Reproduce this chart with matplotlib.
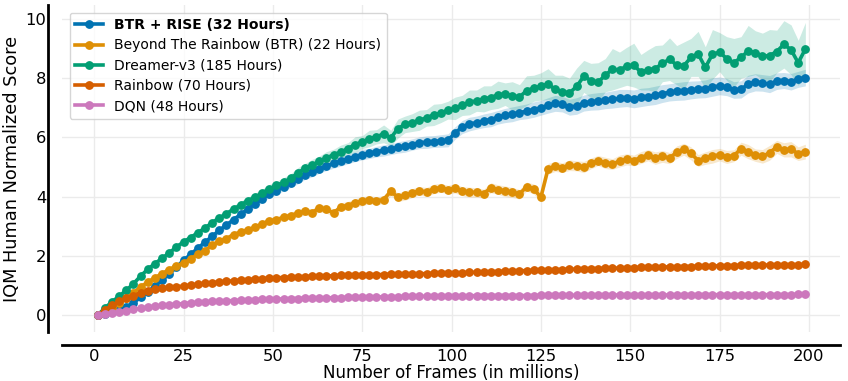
import numpy as np
import matplotlib
matplotlib.use("Agg")
import matplotlib.pyplot as plt

frames = np.arange(1, 201, 2)  # millions of frames

btr_rise = [0.00, 0.04, 0.10, 0.18, 0.28, 0.42, 0.60, 0.79, 0.98, 1.18,
            1.40, 1.62, 1.85, 2.05, 2.26, 2.46, 2.66, 2.86, 3.04, 3.22,
            3.40, 3.58, 3.76, 3.92, 4.10, 4.20, 4.33, 4.45, 4.58, 4.72,
            4.82, 4.95, 5.03, 5.12, 5.20, 5.27, 5.35, 5.42, 5.46, 5.52,
            5.56, 5.60, 5.66, 5.70, 5.76, 5.82, 5.84, 5.86, 5.88, 5.90,
            6.15, 6.35, 6.45, 6.50, 6.56, 6.60, 6.68, 6.74, 6.78, 6.84,
            6.88, 6.94, 7.00, 7.08, 7.15, 7.12, 7.02, 7.06, 7.16, 7.20,
            7.22, 7.25, 7.28, 7.32, 7.33, 7.30, 7.35, 7.38, 7.42, 7.48,
            7.52, 7.55, 7.57, 7.60, 7.62, 7.64, 7.70, 7.74, 7.70, 7.60,
            7.62, 7.80, 7.86, 7.84, 7.80, 7.90, 7.92, 7.88, 7.96, 8.02]

btr = [0.00, 0.10, 0.22, 0.40, 0.58, 0.76, 0.95, 1.12, 1.26, 1.40,
       1.54, 1.66, 1.76, 1.90, 2.06, 2.18, 2.36, 2.50, 2.58, 2.72,
       2.80, 2.88, 2.96, 3.08, 3.18, 3.22, 3.30, 3.36, 3.44, 3.50,
       3.46, 3.62, 3.58, 3.44, 3.66, 3.70, 3.80, 3.84, 3.90, 3.86,
       3.90, 4.18, 3.98, 4.04, 4.12, 4.20, 4.16, 4.26, 4.30, 4.24,
       4.28, 4.18, 4.15, 4.14, 4.10, 4.30, 4.24, 4.18, 4.14, 4.08,
       4.34, 4.26, 3.98, 4.94, 5.02, 4.98, 5.06, 5.04, 5.00, 5.12,
       5.22, 5.14, 5.10, 5.20, 5.26, 5.22, 5.32, 5.40, 5.30, 5.36,
       5.30, 5.50, 5.60, 5.46, 5.22, 5.30, 5.36, 5.42, 5.34, 5.38,
       5.62, 5.52, 5.40, 5.36, 5.48, 5.68, 5.58, 5.60, 5.45, 5.52]

dreamer = [0.00, 0.24, 0.45, 0.64, 0.84, 1.06, 1.32, 1.55, 1.74, 1.92,
           2.10, 2.30, 2.47, 2.62, 2.78, 2.94, 3.12, 3.28, 3.42, 3.58,
           3.72, 3.86, 3.98, 4.12, 4.26, 4.38, 4.48, 4.62, 4.80, 4.96,
           5.06, 5.20, 5.30, 5.42, 5.50, 5.62, 5.76, 5.84, 5.96, 6.02,
           6.12, 5.98, 6.30, 6.44, 6.50, 6.58, 6.66, 6.76, 6.82, 6.92,
           6.98, 7.08, 7.18, 7.24, 7.30, 7.34, 7.44, 7.46, 7.40, 7.36,
           7.58, 7.66, 7.72, 7.80, 7.62, 7.54, 7.50, 7.72, 8.06, 7.92,
           7.86, 8.10, 8.30, 8.28, 8.40, 8.44, 8.20, 8.28, 8.32, 8.50,
           8.64, 8.44, 8.42, 8.70, 8.82, 8.36, 8.80, 8.88, 8.66, 8.52,
           8.70, 8.92, 8.86, 8.74, 8.76, 8.90, 9.14, 8.96, 8.52, 8.98]

rainbow = [0.00, 0.18, 0.33, 0.46, 0.57, 0.66, 0.75, 0.83, 0.88, 0.91,
           0.94, 0.96, 0.98, 1.01, 1.04, 1.07, 1.09, 1.12, 1.14, 1.16,
           1.18, 1.20, 1.21, 1.23, 1.25, 1.26, 1.27, 1.28, 1.29, 1.30,
           1.31, 1.32, 1.32, 1.33, 1.34, 1.35, 1.35, 1.36, 1.36, 1.37,
           1.37, 1.38, 1.38, 1.39, 1.39, 1.40, 1.40, 1.41, 1.41, 1.42,
           1.43, 1.43, 1.44, 1.45, 1.46, 1.46, 1.47, 1.48, 1.49, 1.50,
           1.50, 1.51, 1.52, 1.52, 1.53, 1.54, 1.55, 1.55, 1.56, 1.57,
           1.57, 1.58, 1.58, 1.59, 1.60, 1.60, 1.61, 1.61, 1.62, 1.62,
           1.63, 1.63, 1.64, 1.64, 1.65, 1.65, 1.66, 1.66, 1.67, 1.67,
           1.68, 1.68, 1.68, 1.69, 1.69, 1.69, 1.70, 1.70, 1.70, 1.71]

dqn = [0.00, 0.04, 0.08, 0.12, 0.15, 0.19, 0.23, 0.27, 0.30, 0.33,
       0.35, 0.37, 0.39, 0.41, 0.43, 0.45, 0.46, 0.47, 0.48, 0.49,
       0.50, 0.51, 0.52, 0.53, 0.53, 0.54, 0.55, 0.56, 0.56, 0.57,
       0.57, 0.58, 0.58, 0.59, 0.59, 0.60, 0.60, 0.60, 0.61, 0.61,
       0.62, 0.62, 0.62, 0.63, 0.63, 0.63, 0.64, 0.64, 0.64, 0.64,
       0.65, 0.65, 0.65, 0.66, 0.66, 0.66, 0.66, 0.66, 0.66, 0.66,
       0.66, 0.66, 0.67, 0.67, 0.67, 0.67, 0.67, 0.67, 0.67, 0.67,
       0.67, 0.68, 0.68, 0.68, 0.68, 0.68, 0.68, 0.68, 0.68, 0.68,
       0.68, 0.68, 0.69, 0.69, 0.69, 0.69, 0.69, 0.69, 0.69, 0.69,
       0.69, 0.69, 0.69, 0.69, 0.69, 0.69, 0.69, 0.69, 0.70, 0.70]

# half-widths of the shaded confidence bands
btr_rise_band = [0.00, 0.02, 0.03, 0.04, 0.05, 0.05, 0.06, 0.06, 0.07, 0.07,
                 0.08, 0.08, 0.09, 0.09, 0.10, 0.10, 0.10, 0.11, 0.11, 0.11,
                 0.12, 0.12, 0.13, 0.12, 0.13, 0.14, 0.13, 0.14, 0.15, 0.14,
                 0.15, 0.16, 0.15, 0.16, 0.17, 0.16, 0.17, 0.18, 0.17, 0.18,
                 0.19, 0.18, 0.19, 0.20, 0.19, 0.20, 0.21, 0.20, 0.21, 0.22,
                 0.21, 0.22, 0.23, 0.22, 0.23, 0.24, 0.23, 0.24, 0.25, 0.24,
                 0.25, 0.26, 0.25, 0.26, 0.27, 0.26, 0.27, 0.28, 0.27, 0.28,
                 0.29, 0.28, 0.29, 0.30, 0.29, 0.30, 0.31, 0.30, 0.31, 0.30,
                 0.29, 0.30, 0.31, 0.30, 0.29, 0.30, 0.31, 0.30, 0.29, 0.28,
                 0.29, 0.30, 0.29, 0.28, 0.29, 0.28, 0.27, 0.28, 0.27, 0.28]

btr_band = [0.00, 0.02, 0.03, 0.04, 0.04, 0.05, 0.05, 0.06, 0.06, 0.06,
            0.07, 0.07, 0.08, 0.08, 0.08, 0.09, 0.09, 0.10, 0.09, 0.10,
            0.10, 0.11, 0.10, 0.11, 0.12, 0.11, 0.12, 0.11, 0.12, 0.13,
            0.12, 0.13, 0.14, 0.12, 0.13, 0.14, 0.13, 0.15, 0.14, 0.13,
            0.14, 0.15, 0.14, 0.16, 0.15, 0.14, 0.15, 0.16, 0.15, 0.14,
            0.16, 0.15, 0.17, 0.16, 0.15, 0.17, 0.16, 0.18, 0.17, 0.16,
            0.15, 0.17, 0.16, 0.18, 0.17, 0.16, 0.18, 0.17, 0.19, 0.18,
            0.17, 0.19, 0.18, 0.20, 0.19, 0.18, 0.20, 0.19, 0.21, 0.20,
            0.19, 0.21, 0.20, 0.22, 0.20, 0.21, 0.23, 0.21, 0.22, 0.20,
            0.22, 0.24, 0.21, 0.23, 0.25, 0.22, 0.24, 0.26, 0.23, 0.25]

dreamer_band = [0.00, 0.03, 0.04, 0.05, 0.05, 0.06, 0.06, 0.07, 0.07, 0.08,
                0.08, 0.09, 0.09, 0.10, 0.10, 0.10, 0.11, 0.12, 0.11, 0.12,
                0.13, 0.12, 0.14, 0.13, 0.15, 0.14, 0.16, 0.15, 0.18, 0.16,
                0.20, 0.17, 0.22, 0.18, 0.24, 0.20, 0.26, 0.22, 0.28, 0.24,
                0.30, 0.26, 0.32, 0.28, 0.30, 0.34, 0.28, 0.36, 0.32, 0.30,
                0.38, 0.34, 0.42, 0.36, 0.44, 0.40, 0.46, 0.38, 0.48, 0.42,
                0.50, 0.44, 0.46, 0.52, 0.48, 0.56, 0.50, 0.62, 0.54, 0.58,
                0.66, 0.56, 0.70, 0.60, 0.64, 0.74, 0.60, 0.68, 0.78, 0.62,
                0.72, 0.66, 0.80, 0.64, 0.76, 0.70, 0.84, 0.66, 0.74, 0.82,
                0.70, 0.86, 0.74, 0.78, 0.88, 0.72, 0.80, 0.84, 0.76, 0.90]

labels = ["BTR + RISE (32 Hours)", "Beyond The Rainbow (BTR) (22 Hours)",
          "Dreamer-v3 (185 Hours)", "Rainbow (70 Hours)", "DQN (48 Hours)"]
colors = ["#0173B2", "#DE8F05", "#029E73", "#D55E00", "#CC78BC"]
series = [btr_rise, btr, dreamer, rainbow, dqn]
bands = [btr_rise_band, btr_band, dreamer_band, None, None]

xticks = [0, 25, 50, 75, 100, 125, 150, 175, 200]
yticks = [0, 2, 4, 6, 8, 10]

W, H = 848, 381
fig = plt.figure(figsize=(W / 100, H / 100), dpi=100)
ax = fig.add_axes([62 / W, 1 - 332 / H, 778 / W, 327 / H])

for vals, band, col, lab in zip(series, bands, colors, labels):
    v = np.asarray(vals)
    if band is not None:
        b = np.asarray(band)
        ax.fill_between(frames, v - b, v + b, color=col, alpha=0.2, lw=0)
    ax.plot(frames, v, color=col, lw=2.6, marker="o", markersize=5.3,
            label=lab)

ax.set_xlim(-9, 208.7)
ax.set_ylim(-0.57, 10.47)
ax.set_xticks(xticks)
ax.set_yticks(yticks)
ax.grid(True, color="#ebebeb", lw=1)
ax.set_axisbelow(True)
ax.tick_params(length=0, labelsize=11.8)
ax.tick_params(axis="x", pad=3)
ax.tick_params(axis="y", pad=1.5)
for s in ["top", "right"]:
    ax.spines[s].set_visible(False)
ax.spines["left"].set_position(("outward", 10))
ax.spines["bottom"].set_position(("outward", 9))
for s in ["left", "bottom"]:
    ax.spines[s].set_linewidth(2)
    ax.spines[s].set_color("black")

ax.set_xlabel("Number of Frames (in millions)", fontsize=12, labelpad=0.5)
ax.set_ylabel("IQM Human Normalized Score", fontsize=12.8, labelpad=3)

leg = ax.legend(loc="upper left", fontsize=10, frameon=True,
                borderaxespad=0.55, handlelength=2.0, labelspacing=0.45,
                bbox_to_anchor=(0.0, 1.0))
leg.get_frame().set_edgecolor("#cccccc")
leg.get_texts()[0].set_fontweight("bold")

fig.savefig("out.png", dpi=100)
